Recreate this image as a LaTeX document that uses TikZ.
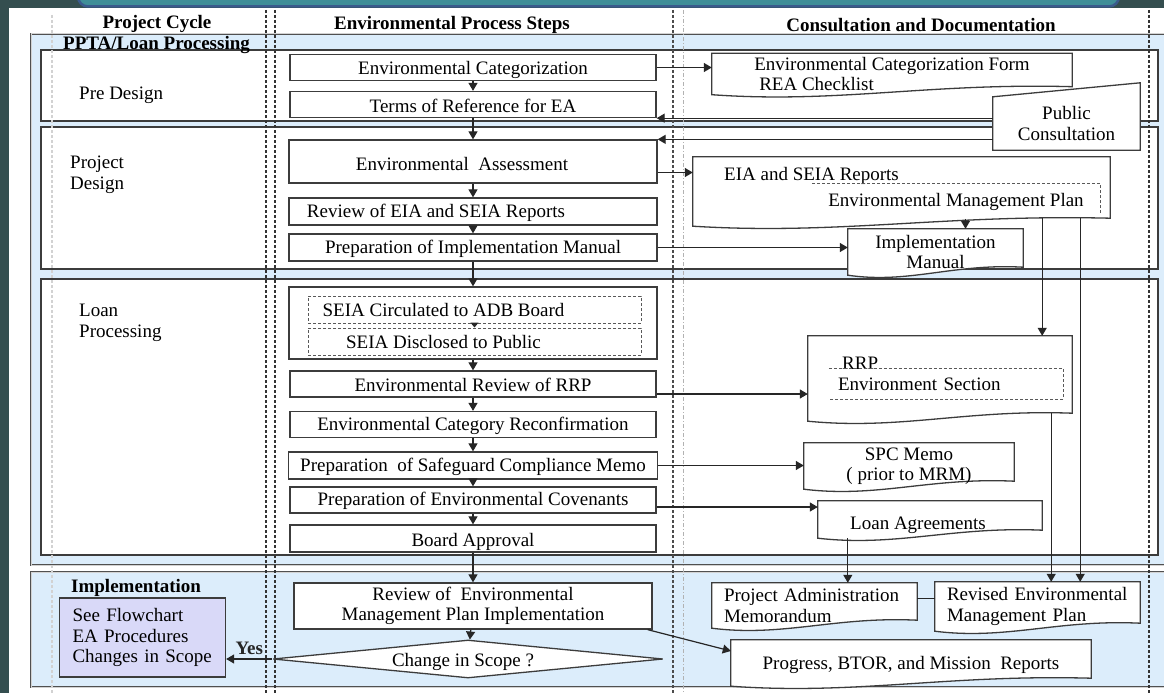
\documentclass[tikz,border=0pt]{standalone}
\usepackage{fontspec}
\setmainfont{Liberation Serif}
\usetikzlibrary{arrows.meta,calc,shapes.geometric}

\pgfdeclarelayer{lanes}
\pgfdeclarelayer{docs}
\pgfsetlayers{lanes,docs,main}

% document symbol: wavy bottom, left end lower
\newcommand{\wavydoc}[1]{%
  \draw[docline] (#1.south west) -- (#1.north west) -- (#1.north east) -- ([yshift=8pt]#1.south east)
    .. controls ($(#1.south west)!0.6!(#1.south east)+(0,-12)$) and ($(#1.south west)!0.35!(#1.south east)+(0,9)$) .. (#1.south west) -- cycle;}
% manual input symbol: slanted top
\newcommand{\manualtop}[1]{%
  \draw[docline] (#1.south west) -- (#1.north west) -- ([yshift=14pt]#1.north east) -- (#1.south east) -- cycle;}
% text set lower without changing the node size
\newcommand{\lowertext}[2]{\raisebox{-#1}[\height][\depth]{#2}}

\begin{document}
\begin{tikzpicture}[x=1pt, y=-1pt, font=\fontsize{19}{20.5}\selectfont]

  % Define Colors
  \definecolor{slate}{HTML}{344E4F}
  \definecolor{barteal}{HTML}{3F8E98}
  \definecolor{barblue}{HTML}{3A5A8C}
  \definecolor{lanefill}{HTML}{DCEDFB}
  \definecolor{flowfill}{HTML}{D9D9F8}
  \definecolor{boxline}{HTML}{3C3C3C}

  % Node styles
  \tikzstyle{procbox}=[rectangle, draw=boxline, line width=1.3pt, fill=white, minimum width=366, minimum height=26, inner sep=0pt]
  \tikzstyle{dashbox}=[rectangle, draw=gray!70!black, dash pattern=on 3pt off 2pt, line width=1pt, minimum width=333, minimum height=27, inner sep=0pt]
  \tikzstyle{docbox}=[rectangle, inner sep=0pt]
  \tikzstyle{plaintext}=[inner sep=0pt]
  \tikzstyle{lanelabel}=[inner sep=0pt, anchor=west, align=left]
  \tikzstyle{hdr}=[inner sep=0pt, font=\fontsize{19}{20.5}\selectfont\bfseries]
  \tikzstyle{chgdiamond}=[diamond, draw=boxline, line width=1.3pt, fill=white, aspect=10, minimum width=390, minimum height=38, inner sep=0pt]
  \tikzstyle{flowbox}=[rectangle, draw=boxline, line width=1.3pt, fill=flowfill, align=left, text width=140, inner xsep=13pt, minimum height=79]

  % Line styles
  \tikzstyle{docline}=[draw=boxline, line width=1.3pt, fill=white]
  \tikzstyle{dashline}=[draw=gray!70!black, dash pattern=on 3pt off 2pt, line width=1pt]
  \tikzstyle{lanebox}=[fill=lanefill, draw=boxline!90, double=gray!35, double distance=1pt, line width=0.8pt]
  \tikzstyle{laneinner}=[fill=white, draw=boxline, line width=1.3pt]
  \tikzstyle{colline}=[dash pattern=on 3pt off 2pt, line width=1.5pt]
  \tikzstyle{arr}=[-{Triangle[length=8pt,width=9pt]}, line width=1.2pt, black!85]
  \tikzstyle{conn}=[line width=1.2pt, black!85]

  \useasboundingbox (0,0) rectangle (1164,693);

  % Page and lanes
  \begin{pgfonlayer}{lanes}
    \fill[slate] (0,0) rectangle (1164,693);
    \fill[white] (9,8) rectangle (1164,693);
    \draw[barblue, line width=2.5pt, fill=barteal, rounded corners=10pt] (78,-20) rectangle (1119,6.5);

    \draw[lanebox] (31,34) rectangle (1180,565);
    \draw[laneinner] (41,50) rectangle (1158,121);
    \draw[laneinner] (41,127) rectangle (1158,269);
    \draw[laneinner] (41,279) rectangle (1158,555);
    \draw[lanebox] (31,572) rectangle (1180,687);

    % column separators
    \draw[colline, gray!35, line width=2pt] (52,15) -- (52,693);
    \draw[colline, black!80] (266,10) -- (266,693);
    \draw[colline, black!80] (275,10) -- (275,693);
    \draw[colline, black!70, line width=2pt] (673,10) -- (673,693);
    \draw[dash pattern=on 4pt off 2pt on 1pt off 2pt, gray!60, line width=0.8pt] (683,10) -- (683,693);
    \draw[colline, black!80] (1149,10) -- (1149,693);
  \end{pgfonlayer}

  % Headers
  \node[hdr] (hcycle) at (157,24) {Project Cycle};
  \node[hdr] (hsteps) at (452,25) {Environmental Process Steps};
  \node[hdr] (hdocs) at (921,25) {Consultation and Documentation};
  \node[hdr, anchor=west] (ppta) at (63,45) {PPTA/Loan Processing};
  \node[hdr, anchor=west] (implt) at (71,588) {Implementation};

  % Lane labels
  \node[lanelabel] (pre) at (79,95) {Pre Design};
  \node[lanelabel] (projd) at (70,175) {Project\\Design};
  \node[lanelabel] (loanp) at (79,323) {Loan\\Processing};

  % Process steps
  \node[procbox] (envcat) at (473,67.5) {\lowertext{2pt}{Environmental Categorization}};
  \node[procbox] (tor) at (473,104.5) {\lowertext{1pt}{Terms of Reference for EA}};
  \node[procbox, minimum width=368, minimum height=43] (ea) at (473,161.5) {\lowertext{2pt}{Environmental\ \ Assessment}\hspace*{22pt}};
  \node[procbox, minimum width=368, minimum height=27] (rev) at (473,211.5) {\lowertext{1pt}{Review of EIA and SEIA Reports}\hspace*{74pt}};
  \node[procbox, minimum width=368, minimum height=27] (prepim) at (473,247.5) {\lowertext{1pt}{Preparation of Implementation Manual}};
  \node[procbox, minimum width=368, minimum height=72] (seia) at (473,323) {};
  \node[dashbox] (circ) at (474.5,309.5) {SEIA Circulated to ADB Board\hspace*{62pt}};
  \node[dashbox] (disc) at (474.5,341.5) {SEIA Disclosed to Public\hspace*{62pt}};
  \node[procbox] (rrp) at (473,384) {\lowertext{1pt}{Environmental Review of RRP}};
  \node[procbox] (reconf) at (473,424.5) {\lowertext{1pt}{Environmental Category Reconfirmation}};
  \node[procbox, minimum width=369, minimum height=27] (scm) at (473,465.5) {\lowertext{1pt}{Preparation\ \ of Safeguard Compliance Memo}};
  \node[procbox] (cov) at (473,500) {\lowertext{1pt}{Preparation of Environmental Covenants}};
  \node[procbox, minimum height=27] (board) at (473,538.5) {\lowertext{3pt}{Board Approval}};
  \node[procbox, minimum width=358, minimum height=46, align=center] (reviewemp) at (473,606) {Review of\ \ Environmental\\Management Plan Implementation};
  \node[chgdiamond] (chg) at (468,659) {\lowertext{3pt}{Change in Scope ?}\hspace*{10pt}};
  \node[flowbox] (flow) at (142.5,637.5) {See Flowchart\\EA Procedures\\Changes in Scope};

  % Documents
  \node[docbox, minimum width=360, minimum height=41, align=left] (ecf) at (892,74) {Environmental Categorization Form\\\hspace*{5pt}REA Checklist};
  \node[docbox, minimum width=147, minimum height=53, align=center] (pc) at (1066.5,123.5) {Public\\Consultation};
  \node[docbox, minimum width=417, minimum height=69] (eia) at (901.5,191.5) {};
  \node[plaintext, anchor=west] (eiat) at (724,176) {EIA and SEIA Reports};
  \node[plaintext, minimum width=288, minimum height=29] (emp) at (956,198.5) {\lowertext{3pt}{Environmental Management Plan}};
  \node[docbox, minimum width=175, minimum height=46, align=center] (im) at (935.5,252) {Implementation\\Manual};
  \node[docbox, minimum width=264, minimum height=85] (rrpdoc) at (940,378.5) {};
  \node[plaintext, anchor=west] (rrpt) at (842,363) {RRP};
  \node[plaintext, minimum width=234, minimum height=30, align=left, text width=216] (sec) at (946,384) {Environment Section};
  \node[docbox, minimum width=210, minimum height=46, align=center] (spc) at (909,466) {SPC Memo\\( prior to MRM)};
  \node[docbox, minimum width=224, minimum height=37] (la) at (930,519.5) {\lowertext{6pt}{Loan Agreements}\hspace*{24pt}};
  \node[docbox, minimum width=205, minimum height=45, align=left, text width=181] (pam) at (814.5,605.5) {Project Administration\\Memorandum};
  \node[docbox, minimum width=205, minimum height=49, align=left, text width=181] (revemp) at (1037.5,606.5) {Revised Environmental\\Management Plan};
  \node[docbox, minimum width=360, minimum height=46] (prog) at (911,663) {\lowertext{2pt}{Progress, BTOR, and Mission\ \ Reports}};

  \begin{pgfonlayer}{docs}
    \wavydoc{ecf}
    \manualtop{pc}
    \wavydoc{eia}
    \wavydoc{im}
    \wavydoc{rrpdoc}
    \wavydoc{spc}
    \wavydoc{la}
    \wavydoc{pam}
    \wavydoc{revemp}
    \wavydoc{prog}
  \end{pgfonlayer}
  \draw[dashline] (emp.south east) -- (emp.north east) -- (emp.north west);
  \draw[dashline] (sec.north west) -- (sec.north east) -- (sec.south east) -- (sec.south west);

  % Step links
  \draw[arr] (envcat) -- (tor);
  \draw[arr] (tor) -- (ea);
  \draw[arr] (ea) -- (rev);
  \draw[arr] (rev) -- (prepim);
  \draw[arr] (prepim) -- (seia);
  \draw[-{Triangle[length=5pt,width=8pt]}, line width=1.2pt, black!85] (circ.south) -- (disc.north);
  \draw[arr] (seia) -- (rrp);
  \draw[arr] (rrp) -- (reconf);
  \draw[arr] (reconf) -- (scm);
  \draw[arr] (scm) -- (cov);
  \draw[arr] (cov) -- (board);
  \draw[arr] (board) -- (reviewemp);
  \draw[arr] (reviewemp) -- (chg);
  \draw[arr] (chg.west) -- node[midway, above, hdr, inner sep=4pt] (yes) {Yes} (chg.west -| flow.east);

  % Document links
  \draw[arr] (envcat.east) -- (envcat.east -| ecf.west);
  \draw[arr] (pc.west |- tor.south east) -- (tor.south east);
  \draw[arr] (pc.west |- ea.north east) -- (ea.north east);
  \draw[arr] ([yshift=-11pt]ea.east) -- ([yshift=-11pt]ea.east -| eia.west);
  \draw[arr] ([xshift=30pt,yshift=10pt]im.north) -- ([xshift=30pt]im.north);
  \draw[arr] (prepim.east) -- (prepim.east -| im.west);
  \draw[arr] ([xshift=-68pt,yshift=8pt]eia.south east) -- ([xshift=-30pt]rrpdoc.north east);
  \draw[arr] ([xshift=-30pt,yshift=8pt]eia.south east) -- ([xshift=-60pt]revemp.north east);
  \draw[arr] ([yshift=-10pt]rrp.east) -- ([yshift=-10pt]rrp.east -| rrpdoc.west);
  \draw[arr] ([xshift=-21pt,yshift=8pt]rrpdoc.south east) -- ([xshift=-89pt]revemp.north east);
  \draw[arr] (scm.east) -- (scm.east -| spc.west);
  \draw[arr] ([yshift=-7pt]cov.east) -- ([yshift=-7pt]cov.east -| la.west);
  \draw[arr] ([xshift=30pt]la.south west) -- ([xshift=136pt]pam.north west);
  \draw[conn] ([yshift=7pt]pam.east) -- ([yshift=7pt]pam.east -| revemp.west);
  \draw[arr] ([xshift=-5pt]reviewemp.south east) -- ([yshift=12pt]prog.west);

\end{tikzpicture}
\end{document}
